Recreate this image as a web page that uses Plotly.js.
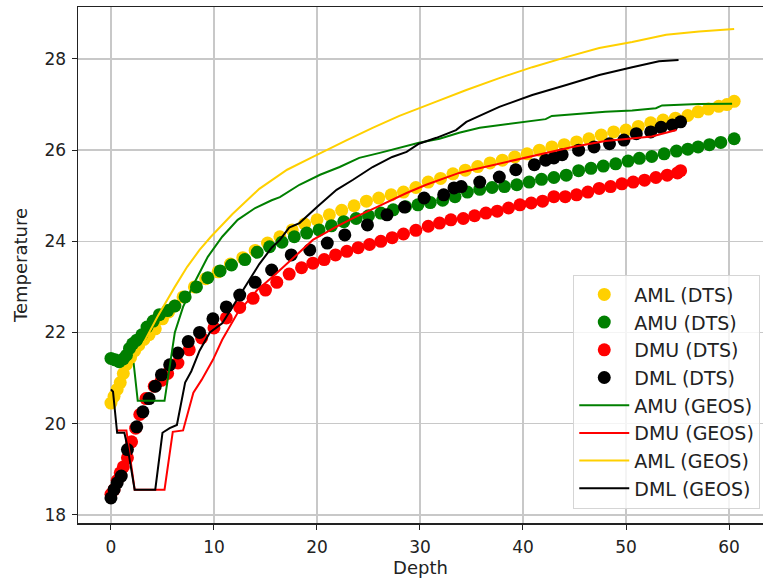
<!DOCTYPE html>
<html>
<head>
<meta charset="utf-8">
<script src="https://cdn.plot.ly/plotly-3.0.1.min.js"></script>
<style>html,body{margin:0;padding:0;background:#fff;}#chart{width:763px;height:583px;}</style>
</head>
<body>
<div id="chart"></div>
<script>
// ---- DTS measurements ----
const amlDtsDepth = [0,0.3,0.6,0.9,1.2,1.5,1.9,2.3,2.7,3.2,3.7,4.3,5.0,5.6,6.2,7.0,8.1,9.2,10.4,11.6,12.8,14.0,15.2,16.4,17.6,18.8,20.0,21.2,22.4,23.6,24.8,26.0,27.2,28.4,29.6,30.8,32.0,33.2,34.4,35.6,36.8,38.0,39.2,40.4,41.6,42.8,44.0,45.2,46.4,47.6,48.8,50.0,51.2,52.4,53.6,54.8,56.0,57.0,58.0,59.0,59.8,60.5];
const amlDtsTemp  = [20.45,20.6,20.75,20.9,21.1,21.3,21.45,21.6,21.72,21.85,21.95,22.08,22.3,22.45,22.58,22.78,23.0,23.18,23.33,23.5,23.64,23.8,23.96,24.1,24.25,24.38,24.47,24.58,24.68,24.78,24.88,24.95,25.02,25.08,25.18,25.3,25.38,25.48,25.56,25.64,25.72,25.78,25.85,25.92,26.0,26.07,26.12,26.18,26.25,26.33,26.4,26.44,26.52,26.6,26.66,26.7,26.76,26.84,26.9,26.96,27.0,27.07];

const amuDtsDepth = [0,0.4,0.8,1.2,1.5,1.8,2.1,2.5,3.0,3.5,4.1,4.7,5.5,6.2,7.2,8.3,9.4,10.6,11.7,13.0,14.2,15.4,16.6,17.8,19.0,20.2,21.4,22.6,23.8,25.0,26.2,27.4,28.6,29.8,31.0,32.2,33.4,34.6,35.8,37.0,38.2,39.4,40.6,41.8,43.0,44.2,45.4,46.6,47.8,49.0,50.2,51.3,52.5,53.7,54.9,56.0,57.0,58.1,59.2,60.5];
const amuDtsTemp  = [21.43,21.4,21.36,21.42,21.5,21.65,21.75,21.83,21.95,22.12,22.25,22.39,22.48,22.58,22.78,23.0,23.2,23.35,23.48,23.6,23.76,23.88,23.98,24.1,24.18,24.25,24.34,24.43,24.5,24.56,24.62,24.69,24.76,24.8,24.85,24.9,24.98,25.08,25.14,25.18,25.2,25.24,25.3,25.36,25.4,25.45,25.55,25.6,25.65,25.7,25.76,25.82,25.86,25.92,25.98,26.02,26.07,26.12,26.17,26.25];

const dmuDtsDepth = [0,0.3,0.6,0.9,1.2,1.6,2.0,2.4,2.8,3.4,4.2,4.9,5.5,6.5,7.6,8.8,10.0,11.2,12.5,13.8,15.0,16.1,17.3,18.5,19.6,20.7,21.8,22.9,24.0,25.1,26.2,27.3,28.4,29.6,30.8,31.9,33.0,34.2,35.3,36.4,37.5,38.6,39.7,40.8,41.9,43.0,44.1,45.2,46.3,47.4,48.5,49.6,50.7,51.8,52.9,54.0,55.0,55.3];
const dmuDtsTemp  = [18.45,18.55,18.75,18.92,19.05,19.25,19.6,19.9,20.2,20.55,20.82,20.95,21.1,21.33,21.62,21.88,22.1,22.32,22.55,22.75,22.93,23.1,23.28,23.42,23.52,23.6,23.7,23.78,23.86,23.93,24.0,24.08,24.16,24.24,24.33,24.4,24.47,24.5,24.56,24.62,24.66,24.73,24.8,24.84,24.88,24.98,24.98,25.02,25.08,25.16,25.2,25.26,25.3,25.34,25.4,25.45,25.5,25.55];

const dmlDtsDepth = [0,0.3,0.6,1.0,1.6,2.5,3.1,3.7,4.3,4.9,5.7,6.5,7.5,8.6,9.9,11.2,12.5,14.0,15.6,17.5,19.3,21.0,22.7,24.9,26.8,28.5,30.4,32.3,33.3,34.0,35.8,37.7,39.3,41.1,42.2,43.0,43.8,45.4,46.9,48.4,49.8,51.0,52.4,53.4,54.5,55.3];
const dmlDtsTemp  = [18.37,18.55,18.7,18.85,19.43,19.93,20.26,20.55,20.82,21.07,21.29,21.55,21.8,22.0,22.3,22.56,22.82,23.1,23.37,23.7,23.81,23.96,24.14,24.36,24.58,24.75,24.95,25.02,25.17,25.2,25.3,25.41,25.57,25.68,25.78,25.83,25.9,26.0,26.07,26.14,26.22,26.36,26.4,26.5,26.55,26.62];

// ---- GEOS model ----
const amuGeosDepth = [2.2,2.6,5.2,6.2,7.0,8.1,9.4,10.8,12.3,14.0,15.6,16.4,18.3,20.3,22.2,24.1,26.1,28.0,29.9,31.9,33.8,35.8,37.7,39.6,42.2,42.8,45.4,48.0,50.6,52.9,53.5,57.0,60.3];
const amuGeosTemp  = [21.33,20.5,20.5,22.0,22.56,23.09,23.66,24.1,24.47,24.73,24.9,24.97,25.24,25.46,25.63,25.83,25.94,26.05,26.16,26.25,26.38,26.49,26.55,26.6,26.68,26.75,26.8,26.84,26.87,26.92,26.98,27.01,27.02];

const dmuGeosDepth = [0.5,1.5,2.3,5.2,6.0,7.0,8.0,8.8,9.9,10.8,12.3,14.2,15.7,17.6,19.6,21.9,23.5,25.8,28.7,30.6,33.8,35.1,38.4,41.6,44.8,48.0,50.6,52.5,54.9];
const dmuGeosTemp  = [19.85,19.85,18.55,18.55,19.82,19.85,20.68,20.96,21.4,21.84,22.43,22.93,23.22,23.62,24.03,24.32,24.51,24.75,25.06,25.24,25.5,25.57,25.74,25.9,26.07,26.2,26.26,26.3,26.44];

const amlGeosDepth = [2.0,3.0,4.5,5.4,6.2,7.4,8.6,9.7,11.8,14.4,17.1,19.6,21.5,22.9,25.4,28.0,31.2,34.5,37.7,40.9,44.2,47.4,50.6,53.9,57.1,59.0,60.5];
const amlGeosTemp  = [21.3,21.7,22.34,22.7,23.0,23.44,23.81,24.1,24.6,25.15,25.57,25.85,26.07,26.22,26.49,26.75,27.03,27.32,27.58,27.82,28.04,28.24,28.37,28.53,28.6,28.64,28.66];

const dmlGeosDepth = [0,0.2,0.6,1.3,1.6,2.3,4.3,5.0,5.7,6.4,7.2,7.8,8.6,9.6,10.8,12.0,13.3,14.4,15.6,16.4,17.3,18.3,20.0,21.9,23.5,25.4,27.3,28.7,29.9,31.6,33.5,34.5,37.7,40.9,44.2,47.4,50.6,53.2,55.1];
const dmlGeosTemp  = [20.75,20.7,19.8,19.8,19.5,18.55,18.55,19.8,19.9,19.97,20.9,21.15,21.6,22.0,22.2,22.64,23.09,23.5,23.86,24.03,24.3,24.4,24.75,25.13,25.35,25.63,25.85,25.96,26.14,26.27,26.44,26.62,26.95,27.21,27.43,27.65,27.82,27.95,27.98];

const xTicks = [0,10,20,30,40,50,60];
const yTicks = [18,20,22,24,26,28];

const GOLD = '#FFD000', GREEN = '#007F00', RED = '#FF0000', BLACK = '#000000';
const MS = 13;

function dots(x, y, name, color) {
  return {x: x, y: y, name: name, type: 'scatter', mode: 'markers',
          marker: {color: color, size: MS}};
}
function line(x, y, name, color) {
  return {x: x, y: y, name: name, type: 'scatter', mode: 'lines',
          line: {color: color, width: 2}};
}

const data = [
  dots(amlDtsDepth, amlDtsTemp, 'AML (DTS)', GOLD),
  dots(amuDtsDepth, amuDtsTemp, 'AMU (DTS)', GREEN),
  dots(dmuDtsDepth, dmuDtsTemp, 'DMU (DTS)', RED),
  dots(dmlDtsDepth, dmlDtsTemp, 'DML (DTS)', BLACK),
  line(amuGeosDepth, amuGeosTemp, 'AMU (GEOS)', GREEN),
  line(dmuGeosDepth, dmuGeosTemp, 'DMU (GEOS)', RED),
  line(amlGeosDepth, amlGeosTemp, 'AML (GEOS)', GOLD),
  line(dmlGeosDepth, dmlGeosTemp, 'DML (GEOS)', BLACK)
];

const FONT = 'DejaVu Sans, sans-serif';
const layout = {
  width: 763, height: 583,
  margin: {l: 78, r: 0, t: 7, b: 60},
  paper_bgcolor: '#fff', plot_bgcolor: '#fff',
  font: {family: FONT, size: 17, color: '#222'},
  showlegend: true,
  xaxis: {
    range: [-3.2, 63.3], tickvals: xTicks, ticktext: xTicks.map(String),
    showgrid: true, gridcolor: '#c8c8c8', gridwidth: 1.5,
    zeroline: false, showline: true, mirror: true, linecolor: '#222', linewidth: 1.5,
    ticks: 'outside', ticklen: 5, tickcolor: '#222', ticklabelstandoff: 3,
    tickfont: {size: 17},
    title: {text: 'Depth', font: {size: 18}, standoff: 5}
  },
  yaxis: {
    range: [17.82, 29.14], tickvals: yTicks, ticktext: yTicks.map(String),
    showgrid: true, gridcolor: '#c8c8c8', gridwidth: 1.5,
    zeroline: false, showline: true, mirror: true, linecolor: '#222', linewidth: 1.5,
    ticks: 'outside', ticklen: 5, tickcolor: '#222', ticklabelstandoff: 2,
    tickfont: {size: 17},
    title: {text: 'Temperature', font: {size: 18}, standoff: 12}
  },
  legend: {
    x: 0.996, xanchor: 'right', y: 0.028, yanchor: 'bottom',
    bgcolor: 'rgba(255,255,255,0.8)', bordercolor: '#d5d5d5', borderwidth: 1,
    font: {size: 19, color: '#222'}, tracegroupgap: 0, itemwidth: 50
  }
};

Plotly.newPlot('chart', data, layout, {displayModeBar: false, staticPlot: true});
</script>
</body>
</html>
